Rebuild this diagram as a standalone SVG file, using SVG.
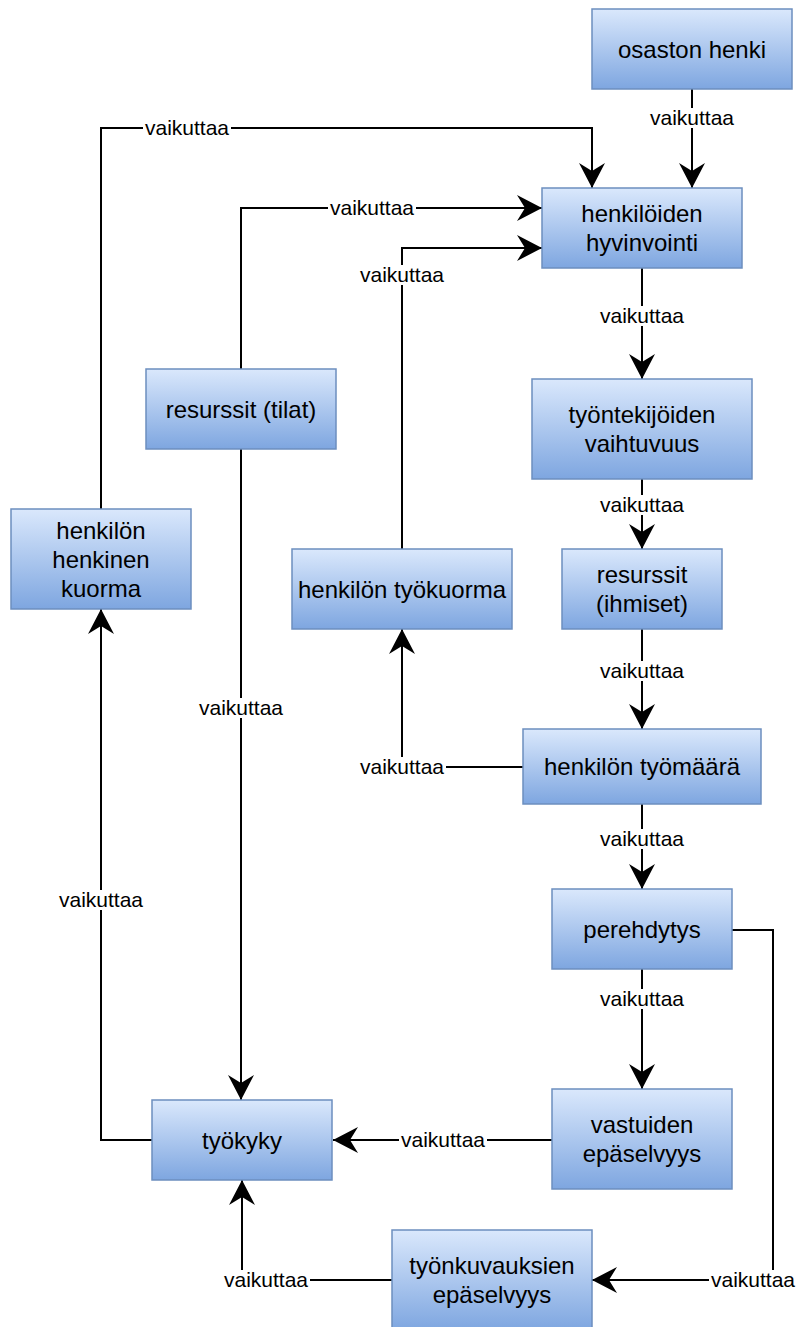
<svg xmlns="http://www.w3.org/2000/svg" width="798" height="1327" viewBox="0 0 798 1327">
<style>
.n rect{fill:url(#g);stroke:#6c8ebf;stroke-width:1.5}
.n text{font-family:"Liberation Sans",Arial,sans-serif;font-size:24px;fill:#000;text-anchor:middle}
.c path{fill:none;stroke:#000;stroke-width:2}
.l rect{fill:#fff}
.l text{font-family:"Liberation Sans",Arial,sans-serif;font-size:21px;fill:#000;text-anchor:middle}
</style>
<defs>
<linearGradient id="g" x1="0" y1="0" x2="0" y2="1">
<stop offset="0" stop-color="#dae8fc"/>
<stop offset="1" stop-color="#7ea6e0"/>
</linearGradient>
<marker id="a" markerUnits="userSpaceOnUse" markerWidth="32" markerHeight="32" viewBox="-28 -16 32 32" refX="0" refY="0" orient="auto">
<path d="M0,0 L-25,-13 L-17,0 L-25,13 Z" fill="#000"/>
</marker>
</defs>
<rect width="798" height="1327" fill="#fff"/>
<g class="c" id="connectors">
<path d="M692,89 V188" marker-end="url(#a)"/>
<path d="M101,509 V128 H592 V188" marker-end="url(#a)"/>
<path d="M241,369 V208 H542" marker-end="url(#a)"/>
<path d="M402,549 V248 H542" marker-end="url(#a)"/>
<path d="M642,268 V379" marker-end="url(#a)"/>
<path d="M642,479 V549" marker-end="url(#a)"/>
<path d="M642,629 V729" marker-end="url(#a)"/>
<path d="M523,767 H402 V629" marker-end="url(#a)"/>
<path d="M642,804 V889" marker-end="url(#a)"/>
<path d="M642,969 V1089" marker-end="url(#a)"/>
<path d="M732,930 H773 V1280 H592" marker-end="url(#a)"/>
<path d="M552,1140 H333" marker-end="url(#a)"/>
<path d="M241,449 V1100" marker-end="url(#a)"/>
<path d="M152,1140 H101 V609" marker-end="url(#a)"/>
<path d="M392,1280 H242 V1180" marker-end="url(#a)"/>
</g>
<g class="l" id="labels">
<g><rect x="648" y="108" width="88" height="20"/><text x="692" y="125">vaikuttaa</text></g>
<g><rect x="143" y="118" width="88" height="20"/><text x="187" y="135">vaikuttaa</text></g>
<g><rect x="328" y="198" width="88" height="20"/><text x="372" y="215">vaikuttaa</text></g>
<g><rect x="358" y="265" width="88" height="20"/><text x="402" y="282">vaikuttaa</text></g>
<g><rect x="598" y="306" width="88" height="20"/><text x="642" y="323">vaikuttaa</text></g>
<g><rect x="598" y="495" width="88" height="20"/><text x="642" y="512">vaikuttaa</text></g>
<g><rect x="598" y="661" width="88" height="20"/><text x="642" y="678">vaikuttaa</text></g>
<g><rect x="358" y="757" width="88" height="20"/><text x="402" y="774">vaikuttaa</text></g>
<g><rect x="598" y="829" width="88" height="20"/><text x="642" y="846">vaikuttaa</text></g>
<g><rect x="598" y="989" width="88" height="20"/><text x="642" y="1006">vaikuttaa</text></g>
<g><rect x="709" y="1270" width="88" height="20"/><text x="753" y="1287">vaikuttaa</text></g>
<g><rect x="399" y="1130" width="88" height="20"/><text x="443" y="1147">vaikuttaa</text></g>
<g><rect x="197" y="698" width="88" height="20"/><text x="241" y="715">vaikuttaa</text></g>
<g><rect x="57" y="890" width="88" height="20"/><text x="101" y="907">vaikuttaa</text></g>
<g><rect x="222" y="1270" width="88" height="20"/><text x="266" y="1287">vaikuttaa</text></g>
</g>
<g class="n" id="osaston-henki"><rect x="592" y="9" width="200" height="80"/><text x="692" y="57.5">osaston henki</text></g>
<g class="n" id="henkiloiden-hyvinvointi"><rect x="542" y="188" width="200" height="80"/><text x="642" y="222">henkilöiden</text><text x="642" y="251">hyvinvointi</text></g>
<g class="n" id="tyontekijoiden-vaihtuvuus"><rect x="532" y="379" width="220" height="100"/><text x="642" y="423">työntekijöiden</text><text x="642" y="452">vaihtuvuus</text></g>
<g class="n" id="resurssit-ihmiset"><rect x="562" y="549" width="160" height="80"/><text x="642" y="583">resurssit</text><text x="642" y="612">(ihmiset)</text></g>
<g class="n" id="henkilon-tyomaara"><rect x="523" y="729" width="238" height="75"/><text x="642" y="775">henkilön työmäärä</text></g>
<g class="n" id="perehdytys"><rect x="552" y="889" width="180" height="80"/><text x="642" y="937.5">perehdytys</text></g>
<g class="n" id="vastuiden-epaselvyys"><rect x="552" y="1089" width="180" height="100"/><text x="642" y="1133">vastuiden</text><text x="642" y="1162">epäselvyys</text></g>
<g class="n" id="tyokyky"><rect x="152" y="1100" width="180" height="80"/><text x="242" y="1148.5">työkyky</text></g>
<g class="n" id="tyonkuvauksien-epaselvyys"><rect x="392" y="1230" width="200" height="100"/><text x="492" y="1274">työnkuvauksien</text><text x="492" y="1303">epäselvyys</text></g>
<g class="n" id="henkinen-kuorma"><rect x="11" y="509" width="180" height="100"/><text x="101" y="538.5">henkilön</text><text x="101" y="567.5">henkinen</text><text x="101" y="596.5">kuorma</text></g>
<g class="n" id="resurssit-tilat"><rect x="146" y="369" width="190" height="80"/><text x="241" y="417.5">resurssit (tilat)</text></g>
<g class="n" id="henkilon-tyokuorma"><rect x="292" y="549" width="220" height="80"/><text x="402" y="597.5">henkilön työkuorma</text></g>
</svg>
